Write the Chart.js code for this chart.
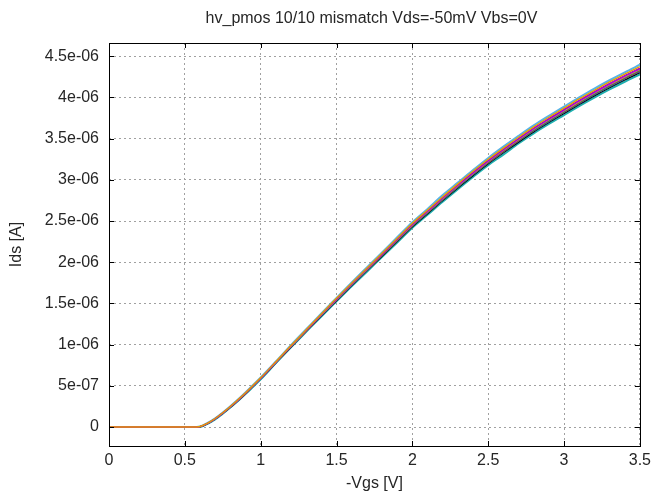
<!DOCTYPE html>
<html>
<head>
<meta charset="utf-8">
<script src="https://cdn.jsdelivr.net/npm/chart.js@4.4.1/dist/chart.umd.min.js"></script>
<style>
  html, body { margin: 0; padding: 0; background: #fff; }
  canvas { display: block; }
</style>
</head>
<body>
<canvas id="ivChart" width="656" height="495"></canvas>
<script>
// -Vgs sweep points [V]
const vgs = [0, 0.5, 0.55, 0.6, 0.65, 0.7, 0.75, 0.8, 0.85, 0.9, 0.95, 1.0,
  1.1, 1.2, 1.3, 1.4, 1.5, 1.6, 1.7, 1.8, 1.9, 2.0, 2.1, 2.2, 2.3, 2.4, 2.5,
  2.6, 2.7, 2.8, 2.9, 3.0, 3.1, 3.2, 3.3, 3.4, 3.5];

// Ids per device, in uA
const idsOrange = [0, 0, 0, .007, .048, .104, .174, .250, .330, .416, .507, .597,
  .792, .989, 1.181, 1.372, 1.562, 1.746, 1.927, 2.109, 2.290, 2.472, 2.633, 2.795, 2.951, 3.103, 3.249,
  3.385, 3.516, 3.642, 3.759, 3.870, 3.981, 4.086, 4.187, 4.283, 4.374];
const idsLightBlue = [0, 0, 0, .008, .050, .106, .177, .253, .334, .420, .511, .602,
  .796, .994, 1.186, 1.379, 1.567, 1.754, 1.937, 2.119, 2.302, 2.484, 2.647, 2.815, 2.966, 3.118, 3.265,
  3.402, 3.534, 3.661, 3.777, 3.889, 4.000, 4.107, 4.208, 4.304, 4.396];
const idsPurple = [0, 0, 0, .006, .046, .101, .171, .247, .327, .413, .503, .593,
  .789, .985, 1.176, 1.367, 1.553, 1.739, 1.920, 2.100, 2.281, 2.462, 2.623, 2.784, 2.940, 3.090, 3.236,
  3.372, 3.502, 3.628, 3.744, 3.854, 3.965, 4.070, 4.171, 4.266, 4.357];
const idsMagenta = [0, 0, 0, .005, .045, .100, .170, .246, .326, .411, .501, .591,
  .787, .982, 1.172, 1.363, 1.548, 1.733, 1.914, 2.094, 2.275, 2.455, 2.615, 2.776, 2.931, 3.081, 3.226,
  3.362, 3.492, 3.617, 3.732, 3.843, 3.953, 4.058, 4.158, 4.253, 4.344];
const idsYellow = [0, 0, 0, .005, .045, .101, .171, .246, .326, .411, .501, .591,
  .786, .981, 1.171, 1.361, 1.547, 1.732, 1.912, 2.092, 2.272, 2.452, 2.613, 2.773, 2.928, 3.078, 3.223,
  3.358, 3.488, 3.614, 3.729, 3.839, 3.949, 4.054, 4.154, 4.249, 4.339];
const idsGreen = [0, 0, 0, .005, .044, .099, .169, .244, .324, .409, .499, .589,
  .784, .979, 1.169, 1.359, 1.543, 1.728, 1.908, 2.088, 2.268, 2.448, 2.607, 2.767, 2.922, 3.072, 3.217,
  3.352, 3.482, 3.606, 3.721, 3.831, 3.941, 4.046, 4.146, 4.241, 4.331];
const idsRed = [0, 0, 0, .004, .044, .099, .169, .244, .323, .408, .498, .588,
  .783, .977, 1.166, 1.356, 1.540, 1.725, 1.904, 2.084, 2.263, 2.443, 2.602, 2.762, 2.916, 3.066, 3.210,
  3.345, 3.475, 3.599, 3.714, 3.824, 3.933, 4.038, 4.138, 4.232, 4.322];
const idsBlue = [0, 0, 0, .004, .043, .098, .167, .242, .322, .407, .496, .586,
  .781, .975, 1.164, 1.353, 1.537, 1.721, 1.900, 2.080, 2.259, 2.438, 2.597, 2.756, 2.910, 3.060, 3.204,
  3.338, 3.468, 3.592, 3.706, 3.816, 3.925, 4.030, 4.129, 4.224, 4.313];
const idsBlack = [0, 0, 0, .003, .042, .097, .166, .241, .320, .405, .494, .584,
  .779, .972, 1.161, 1.349, 1.533, 1.716, 1.895, 2.073, 2.252, 2.430, 2.589, 2.748, 2.902, 3.050, 3.194,
  3.328, 3.457, 3.581, 3.695, 3.804, 3.913, 4.018, 4.117, 4.211, 4.300];
const idsCyan = [0, 0, 0, .002, .040, .094, .163, .237, .316, .400, .489, .578,
  .775, .967, 1.155, 1.342, 1.525, 1.708, 1.885, 2.063, 2.240, 2.418, 2.576, 2.734, 2.887, 3.035, 3.178,
  3.305, 3.440, 3.563, 3.677, 3.785, 3.894, 3.997, 4.096, 4.190, 4.279];

const xTickLabels = ['0', '0.5', '1', '1.5', '2', '2.5', '3', '3.5'];
const yTickLabels = ['0', '5e-07', '1e-06', '1.5e-06', '2e-06', '2.5e-06', '3e-06', '3.5e-06', '4e-06', '4.5e-06'];

const series = [
  { values: idsOrange, color: '#e69f00', width: 1.4 },
  { values: idsPurple, color: '#9400d3', width: 1.3 },
  { values: idsMagenta, color: '#d000c8', width: 1.3 },
  { values: idsYellow, color: '#d8c830', width: 1.3 },
  { values: idsGreen, color: '#009e73', width: 1.3 },
  { values: idsRed, color: '#e51e10', width: 1.3 },
  { values: idsBlue, color: '#0072b2', width: 1.3 },
  { values: idsBlack, color: '#000000', width: 1.3 },
  { values: idsLightBlue, color: '#56b4e9', width: 2 },
  { values: idsCyan, color: '#1fb0b0', width: 2 },
];

const X_STEP = 0.5;
const Y_STEP = 5e-7;
const FONT = "'Liberation Sans', Arial, sans-serif";
const TEXT = '#262626';

Chart.defaults.font.family = FONT;
Chart.defaults.font.size = 16;
Chart.defaults.color = TEXT;

// gnuplot style frame: full border, inward ticks on all four sides, title over plot
const framePlugin = {
  id: 'frame',
  afterDraw(chart) {
    const { ctx, chartArea: a, scales } = chart;
    const len = 5;
    ctx.save();
    ctx.strokeStyle = '#000';
    ctx.lineWidth = 1;
    ctx.beginPath();
    scales.x.ticks.forEach(t => {
      const px = Math.round(scales.x.getPixelForValue(t.value)) + 0.5;
      ctx.moveTo(px, a.bottom); ctx.lineTo(px, a.bottom - len);
      ctx.moveTo(px, a.top); ctx.lineTo(px, a.top + len);
    });
    scales.y.ticks.forEach(t => {
      const py = Math.round(scales.y.getPixelForValue(t.value)) + 0.5;
      ctx.moveTo(a.left, py); ctx.lineTo(a.left + len, py);
      ctx.moveTo(a.right, py); ctx.lineTo(a.right - len, py);
    });
    ctx.stroke();
    ctx.strokeRect(Math.round(a.left) + 0.5, Math.round(a.top) + 0.5,
      Math.round(a.right - a.left), Math.round(a.bottom - a.top));
    ctx.fillStyle = TEXT;
    ctx.font = '16px ' + FONT;
    ctx.textAlign = 'center';
    ctx.textBaseline = 'alphabetic';
    ctx.fillText('hv_pmos 10/10 mismatch Vds=-50mV Vbs=0V', (a.left + a.right) / 2 - 3, 23);
    ctx.restore();
  }
};

new Chart(document.getElementById('ivChart'), {
  type: 'line',
  data: {
    datasets: series.map(s => ({
      data: vgs.map((v, i) => ({ x: v, y: s.values[i] * 1e-6 })),
      borderColor: s.color,
      borderWidth: s.width,
      pointRadius: 0,
      cubicInterpolationMode: 'monotone',
      fill: false,
    })),
  },
  options: {
    responsive: false,
    animation: false,
    devicePixelRatio: 1,
    layout: { padding: { top: 43, right: 14, left: 0, bottom: 0 } },
    plugins: {
      legend: { display: false },
      tooltip: { enabled: false },
    },
    scales: {
      x: {
        type: 'linear',
        min: 0,
        max: 3.5,
        afterFit: s => { s.height = 49; },
        grid: { color: '#a0a0a0', lineWidth: 1, drawTicks: false },
        border: { display: false, dash: [2, 3] },
        ticks: {
          stepSize: X_STEP,
          padding: 5,
          maxRotation: 0,
          callback: v => xTickLabels[Math.round(v / X_STEP)] ?? '',
        },
        title: { display: true, text: '-Vgs [V]', padding: { top: 0, bottom: 2 } },
      },
      y: {
        type: 'linear',
        min: -2.3e-7,
        max: 4.66e-6,
        afterFit: s => { s.width = 109; },
        grid: { color: '#a0a0a0', lineWidth: 1, drawTicks: false },
        border: { display: false, dash: [2, 3] },
        ticks: {
          stepSize: Y_STEP,
          includeBounds: false,
          padding: 10,
          callback: v => yTickLabels[Math.round(v / Y_STEP)] ?? '',
        },
        title: { display: true, text: 'Ids [A]', padding: { top: 7, bottom: 0 } },
      },
    },
  },
  plugins: [framePlugin],
});
</script>
</body>
</html>
